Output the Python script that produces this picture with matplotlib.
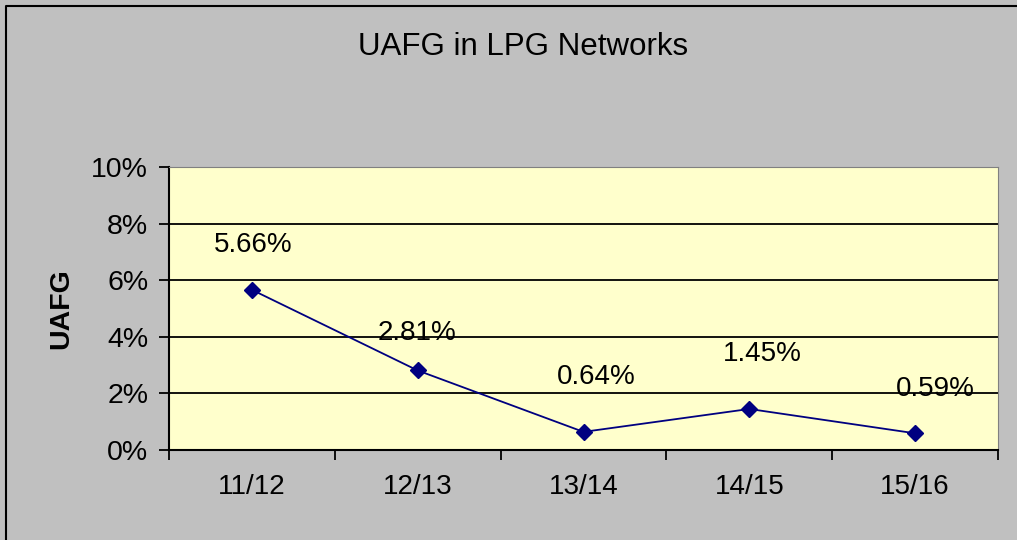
import matplotlib.pyplot as plt
from matplotlib.lines import Line2D
from matplotlib.ticker import FixedLocator, PercentFormatter

# datos
periodos = ['11/12', '12/13', '13/14', '14/15', '15/16']
uafg = [5.66, 2.81, 0.64, 1.45, 0.59]
etiquetas = ['5.66%', '2.81%', '0.64%', '1.45%', '0.59%']
# desplazamiento de las etiquetas (px)
desp_x = [1, -1, 13, 13, 20]
desp_y = [45, 37, 55, 55, 44]

plt.rcParams['font.family'] = ['Liberation Sans', 'DejaVu Sans']

fig = plt.figure(figsize=(10.17, 5.4), dpi=100, facecolor='#C0C0C0')
# borde del gráfico (solo arriba e izquierda son visibles)
borde_x = 6 / 1017
borde_y = 1 - 6 / 540
fig.lines.append(Line2D([borde_x, borde_x, 1.0], [0.0, borde_y, borde_y], transform=fig.transFigure,
                        color='black', linewidth=1.5))

ax = fig.add_axes([169 / 1017, 1 - 450 / 540, (998 - 169) / 1017, (450 - 167) / 540])
ax.set_facecolor('#FFFFCC')

x = list(range(len(periodos)))
ax.plot(x, uafg, color='#000080', linewidth=1.3, marker='D', markersize=8,
        markerfacecolor='#000080', markeredgecolor='#000080', zorder=3)

for i, v in enumerate(uafg):
    ax.annotate(etiquetas[i], (x[i], v), xytext=(desp_x[i] * 0.72, desp_y[i] * 0.72),
                textcoords='offset points', ha='center', va='center', fontsize=20, zorder=4)

ax.set_ylim(0, 10)
ax.set_yticks([0, 2, 4, 6, 8, 10])
ax.yaxis.set_major_formatter(PercentFormatter(decimals=0))
ax.grid(axis='y', color='black', linewidth=1.3)
ax.set_axisbelow(True)

ax.set_xlim(-0.5, len(periodos) - 0.5)
ax.xaxis.set_major_locator(FixedLocator([i - 0.5 for i in range(len(periodos) + 1)]))
ax.xaxis.set_minor_locator(FixedLocator(x))
ax.set_xticklabels([])
ax.set_xticklabels(periodos, minor=True)
ax.tick_params(axis='x', which='minor', length=0, pad=17, labelsize=20)
ax.tick_params(axis='x', which='major', length=7, width=1.3, direction='out')
ax.tick_params(axis='y', length=7, width=1.3, direction='out', pad=8, labelsize=20.5)

ax.spines['left'].set_linewidth(1.5)
ax.spines['bottom'].set_linewidth(1.5)
ax.spines['top'].set_color('#808080')
ax.spines['right'].set_color('#808080')

ax.set_ylabel('UAFG', fontsize=20.5, fontweight='bold', labelpad=12)
fig.text(523 / 1017, 1 - 47 / 540, 'UAFG in LPG Networks', ha='center', va='center', fontsize=22.5)

fig.savefig('out.png', dpi=100, facecolor=fig.get_facecolor())
